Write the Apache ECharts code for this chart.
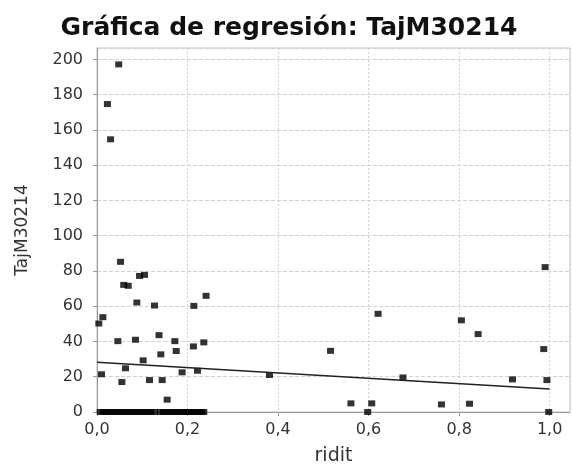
<!DOCTYPE html>
<html>
<head>
<meta charset="utf-8">
<script src="https://cdn.jsdelivr.net/npm/echarts@6/dist/echarts.min.js"></script>
<style>
  html, body { margin: 0; padding: 0; background: #fff; }
  #chart { width: 573px; height: 465px; }
</style>
</head>
<body>
<div id="chart"></div>
<script>
// Observations: ridit score (x) against TajM30214 (y)
const riditValues = [
  0.048, 0.023, 0.030,
  0.052, 0.059, 0.069, 0.094, 0.105, 0.088, 0.127, 0.013, 0.004,
  0.046, 0.085, 0.137, 0.172, 0.214, 0.241, 0.141, 0.175, 0.213,
  0.236, 0.102, 0.063, 0.010, 0.055, 0.116, 0.144, 0.188, 0.222, 0.155,
  0.381, 0.516, 0.561, 0.598, 0.607, 0.621, 0.676, 0.761, 0.805,
  0.823, 0.842, 0.918, 0.990, 0.987, 0.994, 0.998
];
const tajValues = [
  197.2, 174.7, 154.7,
  85.2, 72.1, 71.6, 77.2, 77.8, 62.1, 60.4, 53.8, 50.2,
  40.2, 41.0, 43.6, 40.2, 60.2, 65.9, 32.7, 34.6, 37.2,
  39.5, 29.3, 24.8, 21.4, 17.0, 18.1, 18.1, 22.5, 23.4, 7.0,
  21.0, 34.7, 4.9, 0, 4.9, 55.7, 19.6, 4.3, 52.0,
  4.7, 44.2, 18.5, 82.2, 35.7, 18.1, 0
];
// Low-ridit observations sitting at TajM30214 = 0
const zeroRowRidit = [
  0.007, 0.014, 0.021, 0.028, 0.035, 0.042, 0.049, 0.056, 0.063, 0.070,
  0.077, 0.084, 0.091, 0.098, 0.105, 0.112, 0.119, 0.127, 0.140, 0.147,
  0.154, 0.161, 0.168, 0.175, 0.182, 0.189, 0.196, 0.203, 0.210, 0.217,
  0.224, 0.231, 0.236
];
const zeroRowTaj = zeroRowRidit.map(() => 0);

// Fitted regression line end points
const fitRidit = [0, 1];
const fitTaj = [28.2, 13.0];

const titleText = 'Gráfica de regresión: TajM30214';
const xName = 'ridit';
const yName = 'TajM30214';

const points = riditValues.map((x, i) => [x, tajValues[i]])
  .concat(zeroRowRidit.map((x, i) => [x, zeroRowTaj[i]]));
const fitLine = fitRidit.map((x, i) => [x, fitTaj[i]]);

const FONT = 'DejaVu Sans';
const chart = echarts.init(document.getElementById('chart'), null, { renderer: 'canvas' });

chart.setOption({
  animation: false,
  backgroundColor: '#ffffff',
  title: {
    text: titleText,
    left: 284,
    top: 11,
    textAlign: 'center',
    textStyle: { fontFamily: FONT, fontWeight: 'bold', fontSize: 25, color: '#111' }
  },
  grid: {
    left: 97, top: 48, right: 3, bottom: 53,
    containLabel: false,
    outerBoundsMode: 'none',
    show: true,
    borderColor: '#c4c4c4',
    borderWidth: 1,
    backgroundColor: '#ffffff'
  },
  xAxis: {
    type: 'value',
    min: 0,
    max: 1.045,
    interval: 0.2,
    name: xName,
    nameLocation: 'middle',
    nameGap: 35,
    nameTextStyle: { fontFamily: FONT, fontSize: 19, color: '#333' },
    axisLine: { show: true, onZero: false, lineStyle: { color: '#999', width: 1 } },
    axisTick: { show: true, inside: false, length: 4, lineStyle: { color: '#999' } },
    axisLabel: {
      fontFamily: FONT, fontSize: 16, color: '#333', margin: 10,
      showMaxLabel: false,
      formatter: v => v.toFixed(1).replace('.', ',')
    },
    splitLine: { show: true, lineStyle: { color: '#d2d2d2', type: [2, 2], width: 1 } }
  },
  yAxis: {
    type: 'value',
    min: 0,
    max: 206.5,
    interval: 20,
    name: yName,
    nameLocation: 'middle',
    nameGap: 66,
    nameRotate: 90,
    nameTextStyle: { fontFamily: FONT, fontSize: 17, color: '#333' },
    axisLine: { show: true, onZero: false, lineStyle: { color: '#999', width: 1 } },
    axisTick: { show: true, inside: false, length: 4, lineStyle: { color: '#999' } },
    axisLabel: {
      fontFamily: FONT, fontSize: 16, color: '#333', margin: 14,
      showMaxLabel: false,
      formatter: v => String(Math.round(v))
    },
    splitLine: { show: true, lineStyle: { color: '#d2d2d2', type: [4, 2], width: 1 } }
  },
  series: [
    {
      type: 'scatter',
      data: points,
      symbol: 'rect',
      symbolSize: [7, 6],
      itemStyle: { color: '#000' },
      silent: true,
      z: 3
    },
    {
      type: 'line',
      data: fitLine,
      symbol: 'none',
      lineStyle: { color: '#222', width: 1.5 },
      silent: true,
      z: 4
    }
  ]
});
</script>
</body>
</html>
